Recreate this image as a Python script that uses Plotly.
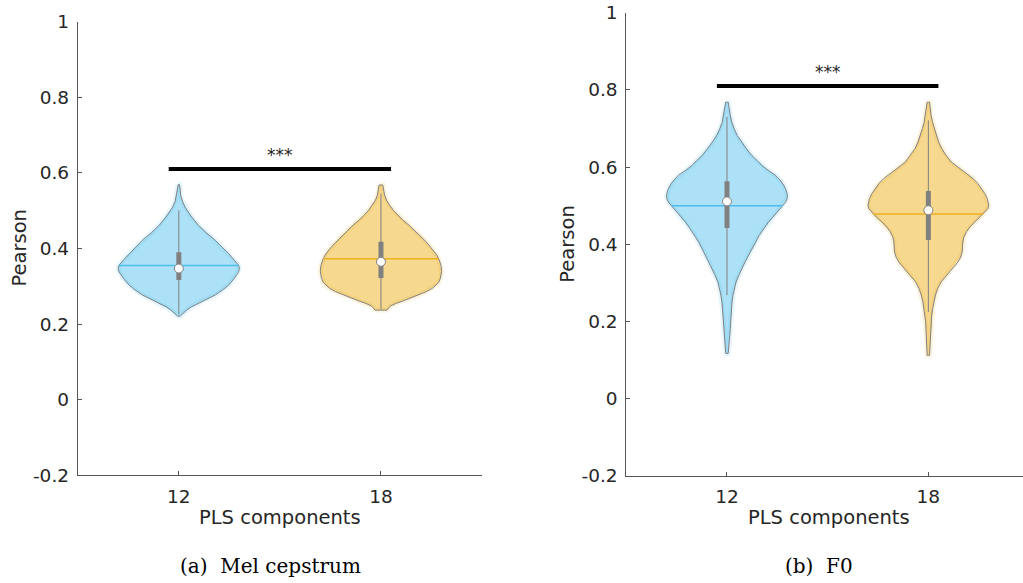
import numpy as np
import plotly.graph_objects as go

# ---------------- data ----------------
categories = ["12", "18"]

# violin outlines: y level and relative density (0..1)
mel_12_y = [0.569, 0.560, 0.541, 0.525, 0.510, 0.486, 0.462, 0.442, 0.422, 0.404, 0.387, 0.370, 0.356,
            0.347, 0.338, 0.320, 0.303, 0.290, 0.277, 0.265, 0.255, 0.245, 0.237, 0.230, 0.224, 0.221]
mel_12_d = [0.01, 0.02, 0.03, 0.06, 0.10, 0.20, 0.32, 0.45, 0.60, 0.71, 0.82, 0.91, 0.985,
            1.00, 0.985, 0.91, 0.82, 0.72, 0.60, 0.45, 0.32, 0.20, 0.13, 0.08, 0.04, 0.02]

mel_18_y = [0.568, 0.555, 0.541, 0.528, 0.515, 0.500, 0.488, 0.475, 0.462, 0.448, 0.435, 0.422, 0.409,
            0.396, 0.383, 0.370, 0.355, 0.339, 0.321, 0.310, 0.303, 0.295, 0.286, 0.277, 0.268, 0.261,
            0.255, 0.248, 0.242, 0.237]
mel_18_d = [0.03, 0.04, 0.06, 0.09, 0.14, 0.21, 0.28, 0.36, 0.46, 0.55, 0.64, 0.72, 0.79,
            0.86, 0.92, 0.96, 0.99, 1.00, 0.98, 0.95, 0.91, 0.85, 0.75, 0.62, 0.47, 0.36,
            0.25, 0.16, 0.12, 0.10]

f0_12_y = [0.768, 0.750, 0.734, 0.716, 0.699, 0.682, 0.665, 0.648, 0.630, 0.617, 0.604, 0.592, 0.579,
           0.566, 0.553, 0.540, 0.527, 0.518, 0.509, 0.496, 0.483, 0.470, 0.458, 0.440, 0.423, 0.406,
           0.389, 0.372, 0.354, 0.337, 0.319, 0.302, 0.285, 0.268, 0.250, 0.233, 0.216, 0.199, 0.181,
           0.164, 0.147, 0.130, 0.117]
f0_12_d = [0.02, 0.04, 0.055, 0.08, 0.12, 0.17, 0.24, 0.32, 0.41, 0.50, 0.58, 0.68, 0.80,
           0.88, 0.94, 0.98, 1.00, 0.995, 0.97, 0.90, 0.83, 0.76, 0.69, 0.61, 0.535, 0.47,
           0.415, 0.36, 0.30, 0.245, 0.195, 0.15, 0.12, 0.10, 0.083, 0.075, 0.066, 0.06, 0.055,
           0.047, 0.038, 0.03, 0.02]

f0_18_y = [0.768, 0.750, 0.734, 0.716, 0.699, 0.682, 0.665, 0.648, 0.630, 0.613, 0.596, 0.583, 0.570,
           0.557, 0.544, 0.531, 0.518, 0.501, 0.492, 0.483, 0.470, 0.458, 0.445, 0.432, 0.419, 0.406,
           0.393, 0.380, 0.367, 0.354, 0.341, 0.328, 0.315, 0.302, 0.285, 0.268, 0.250, 0.233, 0.216,
           0.199, 0.181, 0.164, 0.147, 0.130, 0.112]
f0_18_d = [0.02, 0.035, 0.045, 0.07, 0.10, 0.135, 0.17, 0.22, 0.295, 0.38, 0.52, 0.63, 0.74,
           0.82, 0.88, 0.935, 0.975, 1.00, 0.985, 0.94, 0.86, 0.77, 0.69, 0.63, 0.59, 0.57,
           0.565, 0.56, 0.535, 0.49, 0.42, 0.35, 0.28, 0.21, 0.155, 0.117, 0.09, 0.072, 0.055,
           0.045, 0.04, 0.033, 0.03, 0.025, 0.02]

# summary statistics per category
mel_median = [0.347, 0.365]
mel_mean = [0.355, 0.373]
mel_q1 = [0.317, 0.322]
mel_q3 = [0.390, 0.418]
mel_wlo = [0.226, 0.240]
mel_whi = [0.501, 0.545]

f0_median = [0.511, 0.488]
f0_mean = [0.500, 0.478]
f0_q1 = [0.442, 0.411]
f0_q3 = [0.563, 0.538]
f0_wlo = [0.268, 0.224]
f0_whi = [0.730, 0.721]

sig_level = [0.61, 0.81]
sig_label = ["***", "***"]

y_ticks = [-0.2, 0, 0.2, 0.4, 0.6, 0.8, 1]
y_ticktext = ["-0.2", "0", "0.2", "0.4", "0.6", "0.8", "1"]

# ---------------- style ----------------
HALF_W = 0.3
line_cols = ["rgb(77,190,238)", "rgb(237,177,32)"]
fill_cols = ["rgba(77,190,238,0.46)", "rgba(237,177,32,0.5)"]
halo_cols = ["rgba(77,190,238,0.15)", "rgba(237,177,32,0.15)"]
GRAY = "rgb(128,128,128)"
AX = "#555555"
TXT = "#262626"

fig = go.Figure()


def add_violin(xa, ya, pos, ys, ds, median, mean, q1, q3, wlo, whi, k):
    ys = np.asarray(ys, float)
    ds = np.asarray(ds, float)
    xl = pos - HALF_W * ds
    xr = pos + HALF_W * ds
    px = np.concatenate([xl, xr[::-1], xl[:1]])
    py = np.concatenate([ys, ys[::-1], ys[:1]])
    common = dict(xaxis=xa, yaxis=ya, showlegend=False, hoverinfo="skip")
    # fuzzy halo + fill
    fig.add_trace(go.Scatter(x=px, y=py, mode="lines", fill="toself", fillcolor=fill_cols[k],
                             line=dict(color=halo_cols[k], width=5), **common))
    # outline
    fig.add_trace(go.Scatter(x=px, y=py, mode="lines", line=dict(color=GRAY, width=1), **common))
    # mean line across the violin
    order = np.argsort(ys)
    dm = np.interp(mean, ys[order], ds[order])
    fig.add_trace(go.Scatter(x=[pos - HALF_W * dm, pos + HALF_W * dm], y=[mean, mean], mode="lines",
                             line=dict(color=line_cols[k], width=1.5), **common))
    # whisker
    fig.add_trace(go.Scatter(x=[pos, pos], y=[wlo, whi], mode="lines",
                             line=dict(color=GRAY, width=1), **common))
    # box
    fig.add_trace(go.Scatter(x=[pos, pos], y=[q1, q3], mode="lines",
                             line=dict(color=GRAY, width=5), **common))
    # median
    fig.add_trace(go.Scatter(x=[pos], y=[median], mode="markers",
                             marker=dict(color="white", size=9, line=dict(color=GRAY, width=1)), **common))


panels = [
    ("x", "y", [(mel_12_y, mel_12_d), (mel_18_y, mel_18_d)],
     mel_median, mel_mean, mel_q1, mel_q3, mel_wlo, mel_whi),
    ("x2", "y2", [(f0_12_y, f0_12_d), (f0_18_y, f0_18_d)],
     f0_median, f0_mean, f0_q1, f0_q3, f0_wlo, f0_whi),
]

positions = [i + 1 for i in range(len(categories))]

for p, (xa, ya, shapes, med, mn, q1, q3, wlo, whi) in enumerate(panels):
    for k, pos in enumerate(positions):
        ys, ds = shapes[k]
        add_violin(xa, ya, pos, ys, ds, med[k], mn[k], q1[k], q3[k], wlo[k], whi[k], k)
    # significance bar
    fig.add_trace(go.Scatter(x=[positions[0] - 0.05, positions[-1] + 0.05], y=[sig_level[p]] * 2,
                             mode="lines", line=dict(color="black", width=4), xaxis=xa, yaxis=ya,
                             showlegend=False, hoverinfo="skip"))
    fig.add_annotation(x=(positions[0] + positions[-1]) / 2, y=sig_level[p], xref=xa, yref=ya,
                       text=sig_label[p], showarrow=False, yanchor="middle", yshift=14,
                       font=dict(family="DejaVu Sans", size=17, color=TXT))

axis_common = dict(showline=True, linecolor=AX, linewidth=1, ticks="inside", ticklen=4,
                   tickcolor=AX, showgrid=False, zeroline=False, mirror=False, automargin=False,
                   tickfont=dict(family="DejaVu Sans", size=18.5, color=TXT), ticklabelstandoff=4)

fig.update_layout(
    width=1023, height=583, margin=dict(l=0, r=0, t=0, b=0, autoexpand=False),
    paper_bgcolor="white", plot_bgcolor="white", showlegend=False,
    xaxis=dict(domain=[0.0760, 0.4712], range=[0.5, 2.5], tickvals=positions, ticktext=categories,
               anchor="y", **axis_common),
    yaxis=dict(domain=[0.1847, 0.9628], range=[-0.2, 1], tickvals=y_ticks, ticktext=y_ticktext,
               anchor="x", **axis_common),
    xaxis2=dict(domain=[0.6122, 1.0], range=[0.5, 2.47], tickvals=positions, ticktext=categories,
                anchor="y2", **axis_common),
    yaxis2=dict(domain=[0.1840, 0.9782], range=[-0.2, 1], tickvals=y_ticks, ticktext=y_ticktext,
                anchor="x2", **axis_common),
)

title_font = dict(family="DejaVu Sans", size=19.5, color=TXT)
cap_font = dict(family="DejaVu Serif", size=20, color="black")
W, H = 1023.0, 583.0
for (ptx, pty, ang, txt) in [
    (19, 248.5, -90, "Pearson"), (567.5, 244.2, -90, "Pearson"),
    (280, 517.7, 0, "PLS components"), (828.8, 517.7, 0, "PLS components"),
]:
    fig.add_annotation(x=ptx / W, y=1 - pty / H, xref="paper", yref="paper", text=txt, textangle=ang,
                       showarrow=False, xanchor="center", yanchor="middle", font=title_font)

for (ptx, txt) in [(270, "(a)\u00a0\u00a0Mel cepstrum"), (819, "(b)\u00a0\u00a0F0")]:
    fig.add_annotation(x=ptx / W, y=1 - 566 / H, xref="paper", yref="paper", text=txt,
                       showarrow=False, xanchor="center", yanchor="middle", font=cap_font)

fig.write_html("out.html", config={"displayModeBar": False},
               post_script="document.body.style.margin='0';document.body.style.overflow='hidden';")
